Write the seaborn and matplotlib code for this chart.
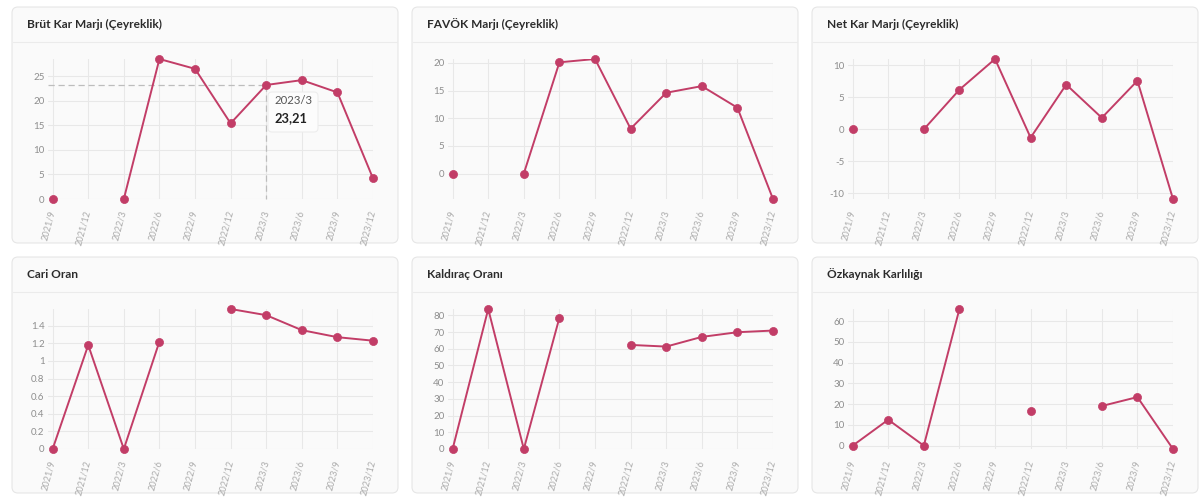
import numpy as np
import pandas as pd
import matplotlib
matplotlib.use("Agg")
import matplotlib.pyplot as plt
import seaborn as sns
from matplotlib.patches import FancyBboxPatch
from matplotlib.transforms import IdentityTransform
from matplotlib.lines import Line2D
from matplotlib.ticker import FuncFormatter

nan = np.nan

periods = ["2021/9", "2021/12", "2022/3", "2022/6", "2022/9",
           "2022/12", "2023/3", "2023/6", "2023/9", "2023/12"]

brut_kar = [0, nan, 0, 28.5, 26.5, 15.4, 23.21, 24.2, 21.7, 4.2]
favok = [0, nan, 0, 20.1, 20.7, 8.1, 14.6, 15.8, 11.9, -4.6]
net_kar = [0, nan, 0, 6.2, 11.0, -1.3, 7.0, 1.8, 7.6, -10.9]
cari_oran = [0, 1.18, 0, 1.22, nan, 1.59, 1.52, 1.35, 1.27, 1.23]
kaldirac = [0, 83.8, 0, 78.6, nan, 62.3, 61.3, 67.1, 69.9, 70.9]
ozkaynak = [0, 12.5, 0, 65.8, nan, 16.5, nan, 19.1, 23.4, -1.6]

titles = ["Brüt Kar Marjı (Çeyreklik)", "FAVÖK Marjı (Çeyreklik)", "Net Kar Marjı (Çeyreklik)",
          "Cari Oran", "Kaldıraç Oranı", "Özkaynak Karlılığı"]
series = [brut_kar, favok, net_kar, cari_oran, kaldirac, ozkaynak]
yticks = [[0, 5, 10, 15, 20, 25],
          [0, 5, 10, 15, 20],
          [-10, -5, 0, 5, 10],
          [0, 0.2, 0.4, 0.6, 0.8, 1, 1.2, 1.4],
          [0, 10, 20, 30, 40, 50, 60, 70, 80],
          [0, 10, 20, 30, 40, 50, 60]]

tooltip_period = "2023/3"
tooltip_value = "23,21"

W, H = 1200, 501
LINE = "#C23D67"
sns.set_theme(style="white")
plt.rcParams["font.family"] = ["Lato", "DejaVu Sans"]

fig = plt.figure(figsize=(W / 100, H / 100), dpi=100)
fig.patch.set_facecolor("white")


def px_rect(x0, y0, x1, y1):
    """top-left pixel coords to figure fraction [l, b, w, h]"""
    return [x0 / W, 1 - y1 / H, (x1 - x0) / W, (y1 - y0) / H]


for i, (title, vals, ticks) in enumerate(zip(titles, series, yticks)):
    col, row = i % 3, i // 3
    cx0 = 12 + 400 * col
    cy0 = 7 + 250 * row
    cw, ch = 386, 236
    card = FancyBboxPatch((cx0, H - (cy0 + ch)), cw, ch,
                          boxstyle="round,pad=0,rounding_size=6",
                          transform=IdentityTransform(), facecolor="#FAFAFA",
                          edgecolor="#E6E6E6", linewidth=0.8, zorder=0)
    fig.add_artist(card)
    fig.add_artist(Line2D([cx0 + 1, cx0 + cw - 1], [H - (cy0 + 35), H - (cy0 + 35)],
                          transform=IdentityTransform(), color="#EBEBEB", linewidth=0.8))
    fig.text((cx0 + 15) / W, 1 - (cy0 + 17.5) / H, title, fontsize=8.6,
             fontweight="bold", color="#2B2B2B", va="center", ha="left")

    ax = fig.add_axes(px_rect(cx0 + 36, cy0 + 52, cx0 + 361, cy0 + 192))
    ax.set_facecolor("none")

    df = pd.DataFrame({"x": np.arange(len(periods)), "val": vals})
    valid = df["val"].notna()
    df["seg"] = (~valid).cumsum()
    dfv = df[valid]

    sns.lineplot(data=dfv, x="x", y="val", units="seg", estimator=None,
                 color=LINE, linewidth=1.4, ax=ax, legend=False, zorder=3)
    sns.scatterplot(data=dfv, x="x", y="val", color=LINE, s=34, edgecolor=LINE,
                    linewidth=0.5, ax=ax, legend=False, zorder=4, clip_on=False)

    vmin, vmax = np.nanmin(vals), np.nanmax(vals)
    ax.set_ylim(vmin, vmax)
    ax.set_xlim(-0.13, len(periods) - 1)
    ax.set_yticks(ticks)
    ax.yaxis.set_major_formatter(FuncFormatter(lambda v, p: f"{v:g}"))
    ax.set_xticks(np.arange(len(periods)))
    ax.set_xticklabels(periods)
    ax.set_xlabel("")
    ax.set_ylabel("")
    for s in ax.spines.values():
        s.set_visible(False)
    ax.grid(True, color="#E8E8E8", linewidth=0.8)
    ax.set_axisbelow(True)
    ax.tick_params(axis="y", length=0, pad=2.5, labelsize=7, labelcolor="#8E8E8E")
    ax.tick_params(axis="x", length=0, pad=8, labelsize=6.6, labelcolor="#ABABAB")
    for lab in ax.get_xticklabels():
        lab.set_rotation(75)
        lab.set_rotation_mode("anchor")
        lab.set_ha("right")
        lab.set_va("center")

    if i == 0:
        xi = periods.index(tooltip_period)
        yv = vals[xi]
        ax.plot([-0.13, xi], [yv, yv], color="#BDBDBD", linewidth=0.9,
                linestyle=(0, (5, 3)), zorder=2)
        ax.plot([xi, xi], [yv, 0], color="#BDBDBD", linewidth=0.9,
                linestyle=(0, (5, 3)), zorder=2, clip_on=False)
        box = FancyBboxPatch((268, H - 132), 50, 40,
                             boxstyle="round,pad=0,rounding_size=4",
                             transform=IdentityTransform(), facecolor="#FCFCFC",
                             edgecolor="#EDEDED", linewidth=0.8, zorder=10)
        fig.add_artist(box)
        fig.text(274 / W, 1 - 100.5 / H, tooltip_period, fontsize=8.2, color="#555555",
                 va="center", ha="left", zorder=11)
        fig.text(274 / W, 1 - 118 / H, tooltip_value, fontsize=9.3, fontweight="bold",
                 color="#222222", va="center", ha="left", zorder=11)

fig.savefig("out.png", dpi=100, facecolor="white")
